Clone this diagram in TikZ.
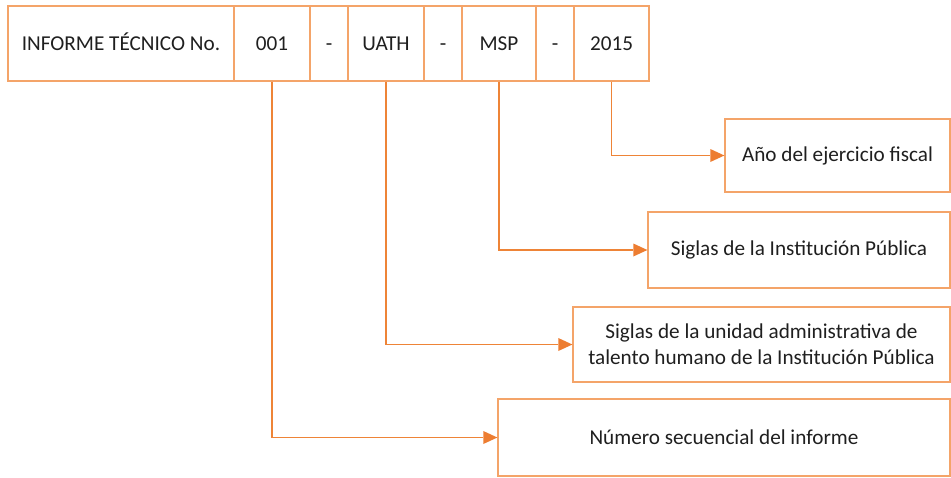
\documentclass[tikz,border=0pt]{standalone}
\usepackage{fontspec}
\setmainfont{Carlito}
\usetikzlibrary{arrows.meta}
\definecolor{boxline}{HTML}{F4A469}
\definecolor{conn}{HTML}{EE8437}
\definecolor{tipc}{HTML}{ED7D31}
\tikzset{
  cell/.style={draw=boxline, line width=1.3pt, inner sep=0pt, align=center, font=\fontsize{21.2}{26}\selectfont, text=black!88},
  topcell/.style={cell, minimum height=75pt, text height=14pt, text depth=0pt},
  link/.style={draw=conn, line width=1.2pt, -{Triangle[length=14pt,width=13pt,fill=tipc,line width=0pt]}}
}
\begin{document}
\begin{tikzpicture}[x=1pt,y=-1pt]
\useasboundingbox (0,0) rectangle (951,477);
\node[topcell, minimum width=226pt] (c1) at (121,43.5) {INFORME TÉCNICO No.};
\node[topcell, minimum width=76pt] (c2) at (272,43.5) {001};
\node[topcell, minimum width=38pt] (c3) at (329,43.5) {-};
\node[topcell, minimum width=76pt] (c4) at (386,43.5) {UATH};
\node[topcell, minimum width=38pt] (c5) at (443,43.5) {-};
\node[topcell, minimum width=74pt] (c6) at (499,43.5) {MSP};
\node[topcell, minimum width=38pt] (c7) at (555,43.5) {-};
\node[topcell, minimum width=75pt] (c8) at (611.5,43.5) {2015};

\node[cell, minimum width=225pt, minimum height=73pt] (b1) at (837.5,155.5) {Año del ejercicio fiscal};
\node[cell, minimum width=302pt, minimum height=76pt] (b2) at (799,250) {Siglas de la Institución Pública};
\node[cell, minimum width=377pt, minimum height=75pt] (b3) at (761.5,344.5) {Siglas de la unidad administrativa de\\talento humano de la Institución Pública};
\node[cell, minimum width=452pt, minimum height=77pt] (b4) at (724,437.5) {Número secuencial del informe};

\draw[link] (c8.south) |- (b1.west);
\draw[link] (c6.south) |- (b2.west);
\draw[link] (c4.south) |- (b3.west);
\draw[link] (c2.south) |- (b4.west);
\end{tikzpicture}
\end{document}
